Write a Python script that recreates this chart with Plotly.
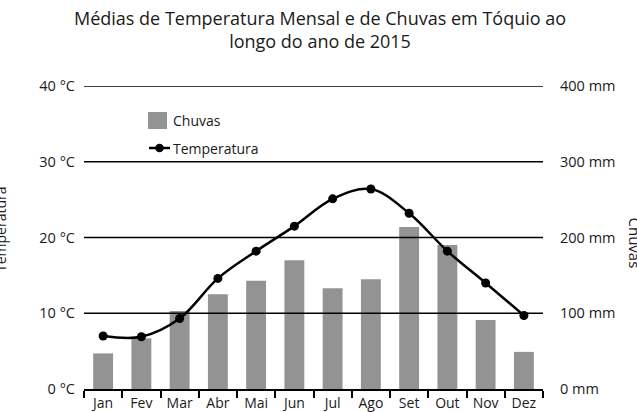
import plotly.graph_objects as go

# Monthly data for Tokyo, 2015
months = ["Jan", "Fev", "Mar", "Abr", "Mai", "Jun", "Jul", "Ago", "Set", "Out", "Nov", "Dez"]
rain_mm = [47, 67, 103, 125, 143, 170, 133, 145, 214, 190, 91, 49]
temp_c = [7.0, 6.9, 9.3, 14.6, 18.2, 21.5, 25.1, 26.4, 23.2, 18.2, 14.0, 9.7]

temp_ticks = [0, 10, 20, 30, 40]
rain_ticks = [0, 100, 200, 300, 400]

FONT = "Open Sans"
TEXT = "#1a1a1a"
BAR = "#939393"

# Plot-area geometry in pixels, used to place legend and titles
L, R, T, B = 84, 94, 86, 23
W, H = 637, 412
PW, PH = W - L - R, H - T - B


def px_x(px):
    return (px - L) / PW


def px_y(py):
    return (H - B - py) / PH


fig = go.Figure()

# Rainfall bars on the right-hand (mm) axis
fig.add_trace(go.Bar(
    x=months, y=rain_mm, name="Chuvas", yaxis="y",
    marker=dict(color=BAR, line=dict(width=0)),
    showlegend=False,
))

# Temperature line on the left-hand (°C) axis, drawn over the bars
fig.add_trace(go.Scatter(
    x=months, y=temp_c, name="Temperatura", yaxis="y2",
    mode="lines+markers",
    line=dict(color="black", width=2.5, shape="spline", smoothing=1),
    marker=dict(color="black", size=9),
    showlegend=False,
))

# Horizontal reference lines kept above the bars
shapes = []
for t in temp_ticks[1:]:
    shapes.append(dict(type="line", xref="paper", yref="y2", x0=0, x1=1, y0=t, y1=t,
                       line=dict(color="black", width=1.5), layer="above"))

# Hand-made legend: grey square and line with dot
shapes.append(dict(type="rect", xref="paper", yref="paper",
                   x0=px_x(148), x1=px_x(167), y0=px_y(129), y1=px_y(112),
                   fillcolor=BAR, line=dict(width=0), layer="above"))
shapes.append(dict(type="line", xref="paper", yref="paper",
                   x0=px_x(149), x1=px_x(170), y0=px_y(148), y1=px_y(148),
                   line=dict(color="black", width=2.5), layer="above"))
shapes.append(dict(type="circle", xref="paper", yref="paper",
                   xsizemode="pixel", ysizemode="pixel",
                   xanchor=px_x(159.5), yanchor=px_y(148), x0=-4.3, x1=4.3, y0=-4.3, y1=4.3,
                   fillcolor="black", line=dict(width=0), layer="above"))

annotations = [
    dict(text="Médias de Temperatura Mensal e de Chuvas em Tóquio ao<br>longo do ano de 2015",
         xref="paper", yref="paper", x=px_x(319.5), y=px_y(4),
         xanchor="center", yanchor="top", showarrow=False,
         font=dict(family=FONT, size=18, color=TEXT)),
    dict(text="Chuvas", xref="paper", yref="paper", x=px_x(171), y=px_y(121),
         xanchor="left", yanchor="middle", showarrow=False,
         font=dict(family=FONT, size=14, color=TEXT)),
    dict(text="Temperatura", xref="paper", yref="paper", x=px_x(171), y=px_y(148),
         xanchor="left", yanchor="middle", showarrow=False,
         font=dict(family=FONT, size=14, color=TEXT)),
    # Axis titles, partly running off the page edges
    dict(text="Temperatura", xref="paper", yref="paper", x=px_x(0), y=px_y(229),
         xanchor="center", yanchor="middle", showarrow=False, textangle=-90,
         font=dict(family=FONT, size=14, color=TEXT)),
    dict(text="Chuvas", xref="paper", yref="paper", x=px_x(634.5), y=px_y(243),
         xanchor="center", yanchor="middle", showarrow=False, textangle=90,
         font=dict(family=FONT, size=15, color=TEXT)),
]

fig.update_layout(
    width=W, height=H,
    margin=dict(l=L, r=R, t=T, b=B, autoexpand=False),
    paper_bgcolor="white", plot_bgcolor="white",
    font=dict(family=FONT, size=14, color=TEXT),
    bargap=0.48,
    xaxis=dict(
        type="category", range=[-0.5, len(months) - 0.5],
        tickson="boundaries", ticks="outside", ticklen=7,
        tickwidth=1.5, tickcolor="black", showline=True, linecolor="black",
        linewidth=1.8, showgrid=False, automargin=False,
        tickfont=dict(family=FONT, size=14, color=TEXT),
    ),
    yaxis=dict(
        side="right", range=[0, 400], tickmode="array", tickvals=rain_ticks,
        ticktext=[f"{v} mm" for v in rain_ticks],
        showgrid=False, zeroline=False, showline=False, ticks="",
        ticklabelstandoff=16, automargin=False,
        tickfont=dict(family=FONT, size=14.5, color=TEXT),
    ),
    yaxis2=dict(
        overlaying="y", side="left", range=[0, 40], tickmode="array", tickvals=temp_ticks,
        ticktext=[f"{v} °C" for v in temp_ticks],
        showgrid=False, zeroline=False, showline=False,
        ticks="", ticklabelstandoff=8, automargin=False,
        tickfont=dict(family=FONT, size=14.5, color=TEXT),
    ),
    shapes=shapes,
    annotations=annotations,
)

fig.write_html("out.html")
